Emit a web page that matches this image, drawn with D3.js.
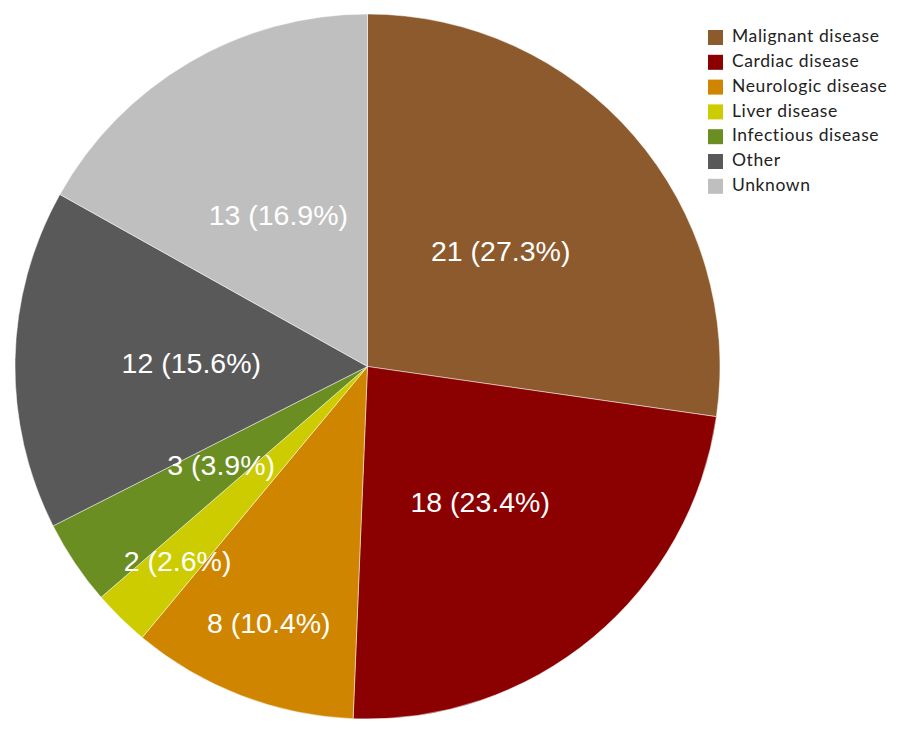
<!DOCTYPE html>
<html lang="en">
<head>
    <meta charset="UTF-8">
    <title>Causes of death</title>
    <script src="https://d3js.org/d3.v7.min.js"></script>
    <style>
        body {
            margin: 0;
            background: #fff;
        }
        svg {
            display: block;
        }
        .slice-label {
            font-family: 'Liberation Sans', Arial, sans-serif;
            font-size: 28.5px;
            fill: #fff;
        }
        .legend-label {
            font-family: Lato, 'Liberation Sans', sans-serif;
            font-size: 17.5px;
            letter-spacing: 0.6px;
            fill: #222;
        }
    </style>
</head>
<body>
<svg id="chart" width="900" height="732"></svg>
<script>
    // Data
    const categories = ["Malignant disease", "Cardiac disease", "Neurologic disease", "Liver disease",
                        "Infectious disease", "Other", "Unknown"];
    const counts = [21, 18, 8, 2, 3, 12, 13];
    const percentLabels = ["27.3%", "23.4%", "10.4%", "2.6%", "3.9%", "15.6%", "16.9%"];
    const colors = ["#8c5a2c", "#8b0000", "#d08500", "#cccc00", "#6b8e23", "#595959", "#bfbfbf"];

    const svg = d3.select("#chart");
    const cx = 367.5, cy = 366.5, radius = 352.5;

    // label distance from centre, as a share of the radius (narrow slices pushed outward)
    const labelRadius = [0.5, 0.5, 0.78, 0.77, 0.5, 0.5, 0.5];

    const pie = d3.pie().sort(null).value(d => d.count);
    const rows = categories.map((c, i) => ({ name: c, count: counts[i], pct: percentLabels[i], color: colors[i], i: i }));
    const arcs = pie(rows);

    const arc = d3.arc().innerRadius(0).outerRadius(radius);

    const g = svg.append("g").attr("transform", `translate(${cx},${cy})`);

    g.selectAll("path")
        .data(arcs)
        .enter()
        .append("path")
        .attr("d", arc)
        .attr("fill", d => d.data.color)
        .attr("stroke", "#fff")
        .attr("stroke-opacity", 0.6)
        .attr("stroke-width", 0.8);

    // Slice labels
    g.selectAll("text")
        .data(arcs)
        .enter()
        .append("text")
        .attr("class", "slice-label")
        .attr("text-anchor", "middle")
        .attr("dy", "0.36em")
        .attr("transform", d => {
            const r = radius * labelRadius[d.data.i];
            const c = d3.arc().innerRadius(r).outerRadius(r).centroid(d);
            return `translate(${c[0]},${c[1]})`;
        })
        .text(d => `${d.data.count} (${d.data.pct})`);

    // Legend
    const legend = svg.append("g").attr("transform", "translate(708,30)");
    const rowH = 24.8;

    const item = legend.selectAll("g")
        .data(rows)
        .enter()
        .append("g")
        .attr("transform", (d, i) => `translate(0,${i * rowH})`);

    item.append("rect")
        .attr("width", 15)
        .attr("height", 15)
        .attr("fill", d => d.color);

    item.append("text")
        .attr("class", "legend-label")
        .attr("x", 24)
        .attr("y", 12.2)
        .text(d => d.name);
</script>
</body>
</html>
